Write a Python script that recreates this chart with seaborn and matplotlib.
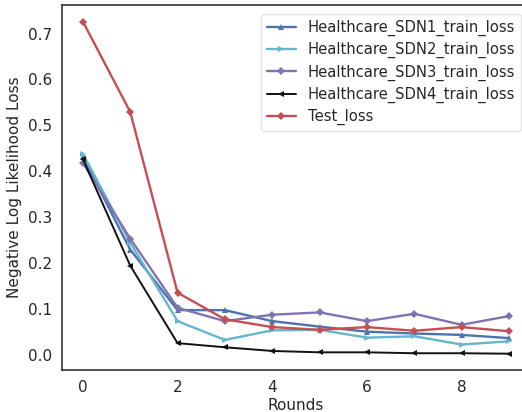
import numpy as np
import pandas as pd
import matplotlib
matplotlib.use("Agg")
import matplotlib.pyplot as plt
import seaborn as sns

rounds = list(range(10))
sdn1 = [0.430, 0.229, 0.097, 0.097, 0.073, 0.061, 0.050, 0.046, 0.043, 0.036]
sdn2 = [0.438, 0.244, 0.073, 0.032, 0.053, 0.054, 0.037, 0.040, 0.022, 0.029]
sdn3 = [0.418, 0.253, 0.102, 0.073, 0.087, 0.092, 0.073, 0.089, 0.065, 0.084]
sdn4 = [0.426, 0.194, 0.025, 0.016, 0.008, 0.005, 0.005, 0.003, 0.003, 0.002]
test = [0.726, 0.529, 0.135, 0.077, 0.060, 0.054, 0.060, 0.052, 0.060, 0.051]

names = ["Healthcare_SDN1_train_loss", "Healthcare_SDN2_train_loss",
         "Healthcare_SDN3_train_loss", "Healthcare_SDN4_train_loss", "Test_loss"]
series = [sdn1, sdn2, sdn3, sdn4, test]
colors = ["#4C72B0", "#64B5CD", "#8172B2", "#111111", "#C44E52"]
markers = ["^", ">", "D", "<", "D"]
widths = [1.7, 1.7, 1.7, 1.4, 1.7]
msizes = [5, 5, 4.5, 4.5, 4.5]

sns.set_style("white")
plt.rcParams["font.family"] = ["DejaVu Sans"]

fig = plt.figure(figsize=(5.22, 4.12), dpi=100)
ax = fig.add_axes([0.118, 0.1012, 0.8977, 0.8867])

for name, vals, c, m, lw, ms in zip(names, series, colors, markers, widths, msizes):
    df = pd.DataFrame({"Rounds": rounds, "loss": vals})
    sns.lineplot(data=df, x="Rounds", y="loss", ax=ax, color=c, marker=m,
                 markersize=ms, markeredgewidth=0, linewidth=lw, label=name)

ax.set_xlabel("Rounds", fontsize=11, color=".15", labelpad=2)
ax.set_ylabel("Negative Log Likelihood Loss", fontsize=11, color=".15")
ax.set_xticks([0, 2, 4, 6, 8])
ax.set_yticks([0.0, 0.1, 0.2, 0.3, 0.4, 0.5, 0.6, 0.7])
ax.tick_params(labelsize=11, colors=".15")
for s in ax.spines.values():
    s.set_color(".2")
    s.set_linewidth(1.2)
ax.margins(x=0.05, y=0.05)
leg = ax.legend(loc="upper right", fontsize=10.6, frameon=True,
                labelspacing=0.42, borderaxespad=0.6)
leg.get_frame().set_edgecolor("#dddddd")
fig.savefig("out.png", dpi=100)
